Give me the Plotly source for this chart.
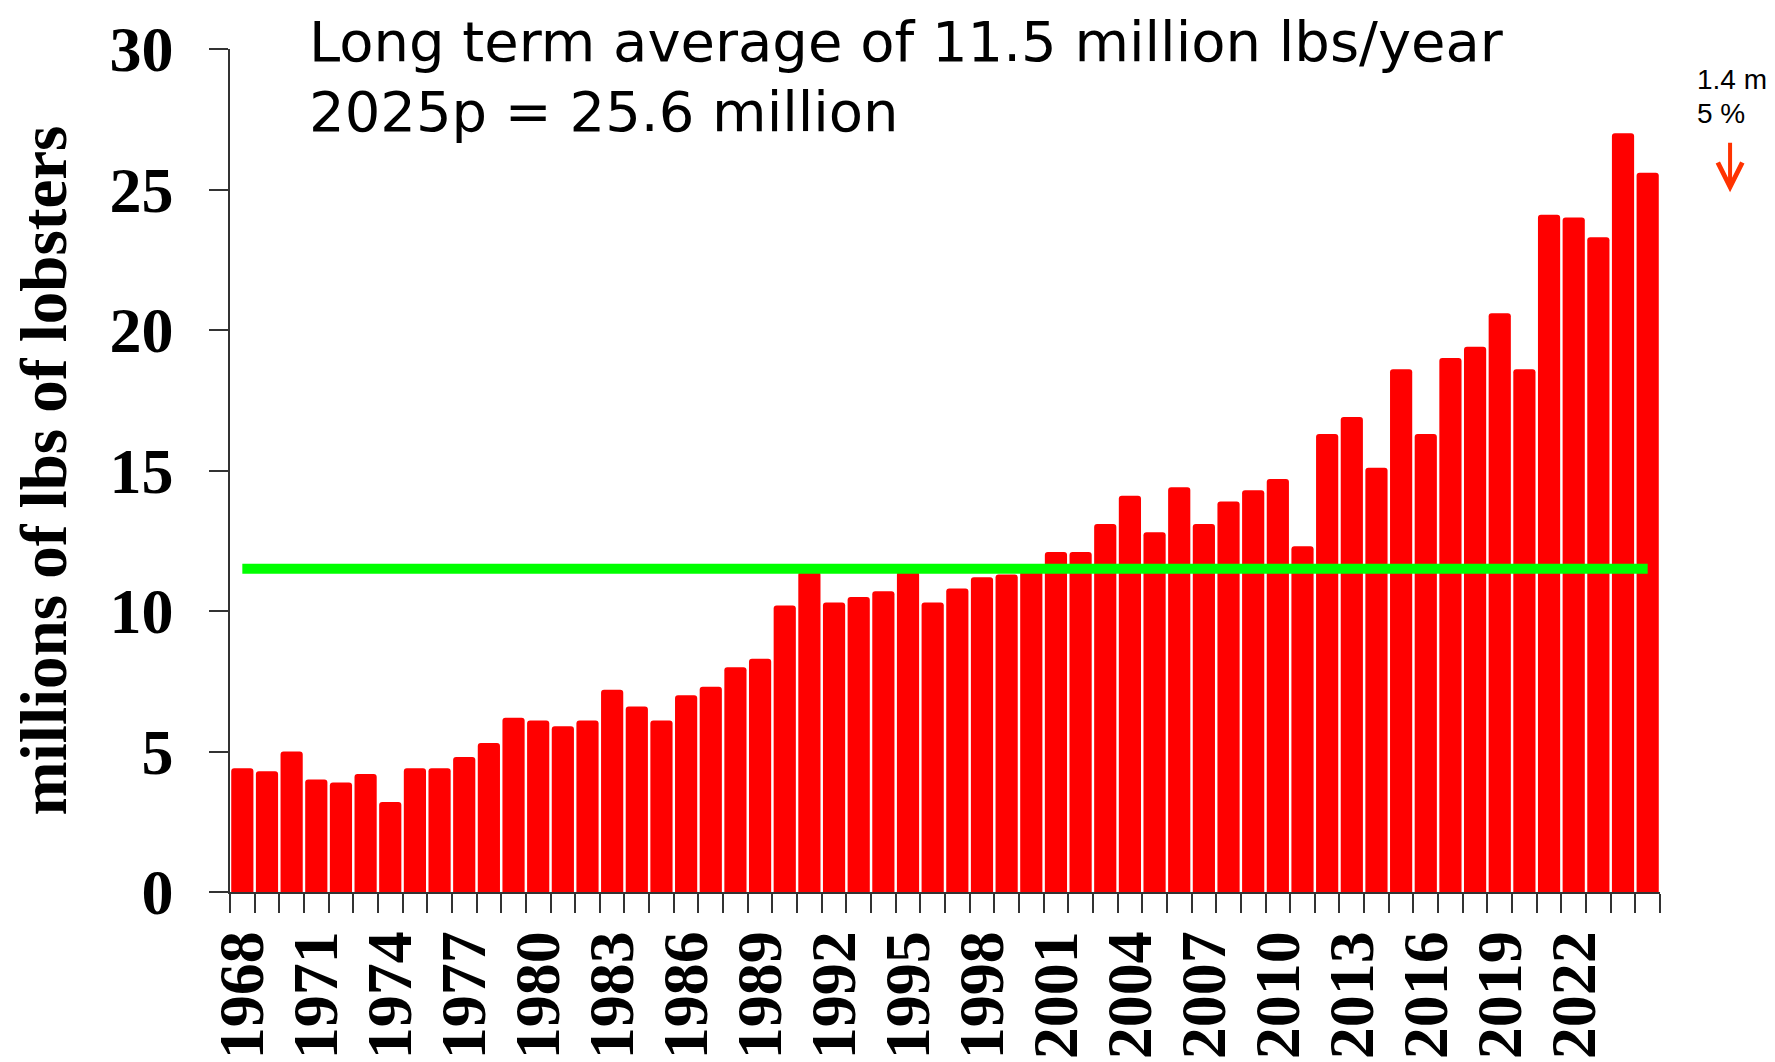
import plotly.graph_objects as go

# -------------------------------
# Datos
# -------------------------------
years = list(range(1968, 2026))
landings = [
    4.4, 4.3, 5.0, 4.0, 3.9, 4.2, 3.2, 4.4, 4.4, 4.8,
    5.3, 6.2, 6.1, 5.9, 6.1, 7.2, 6.6, 6.1, 7.0, 7.3,
    8.0, 8.3, 10.2, 11.4, 10.3, 10.5, 10.7, 11.4, 10.3, 10.8,
    11.2, 11.3, 11.5, 12.1, 12.1, 13.1, 14.1, 12.8, 14.4, 13.1,
    13.9, 14.3, 14.7, 12.3, 16.3, 16.9, 15.1, 18.6, 16.3, 19.0,
    19.4, 20.6, 18.6, 24.1, 24.0, 23.3, 27.0, 25.6,
]
label_years = [1968, 1971, 1974, 1977, 1980, 1983, 1986, 1989, 1992, 1995,
               1998, 2001, 2004, 2007, 2010, 2013, 2016, 2019, 2022]
avg_years = [1968, 2025]
avg_value = [11.5, 11.5]

title_lines = ["Long term average of 11.5 million lbs/year", "2025p = 25.6 million"]
change_lines = ["1.4 m", "5 %"]

serif = "Liberation Serif"

# -------------------------------
# Figura
# -------------------------------
fig = go.Figure()

fig.add_trace(go.Bar(
    x=years, y=landings,
    marker=dict(color="#FF0000", line=dict(width=0), cornerradius=3),
    width=0.9,
    showlegend=False,
))

fig.add_trace(go.Scatter(
    x=avg_years, y=avg_value, mode="lines",
    line=dict(color="#00FF00", width=10),
    showlegend=False,
))

# la página añade 8 px de margen arriba y a la izquierda
fig.update_layout(
    width=1775, height=1062,
    margin=dict(l=222, r=123, t=41, b=178),
    plot_bgcolor="white", paper_bgcolor="white",
    xaxis=dict(
        range=[1967.5, 2025.5],
        tickmode="array", tickvals=label_years,
        ticktext=[f"<b>{y}</b>" for y in label_years],
        tickangle=-90,
        ticks="outside", ticklen=0,
        ticklabelstandoff=12,
        tickfont=dict(family=serif, size=64, color="black"),
        minor=dict(ticks="outside", tick0=1967.5, dtick=1, ticklen=19,
                   tickcolor="#333", tickwidth=1.5, showgrid=False),
        showline=True, linecolor="#333", linewidth=1.5,
        showgrid=False, zeroline=False, automargin=False,
    ),
    yaxis=dict(
        range=[0, 30], dtick=5,
        ticks="outside", ticklen=19, tickcolor="#333", tickwidth=1.5,
        ticklabelstandoff=23,
        tickfont=dict(family=serif, size=64, color="black", weight="bold"),
        showline=True, linecolor="#333", linewidth=1.5,
        showgrid=False, zeroline=False, automargin=False,
        title=dict(text="<b>millions of lbs of lobsters</b>",
                   font=dict(family=serif, size=65, color="black"),
                   standoff=38),
    ),
)

# texto superior
fig.add_annotation(xref="paper", yref="paper", x=0.0545, y=1.0084,
                   xanchor="left", yanchor="middle", showarrow=False,
                   borderpad=0, text=title_lines[0],
                   font=dict(family="DejaVu Sans", size=56, color="black"))
fig.add_annotation(xref="paper", yref="paper", x=0.0545, y=0.9255,
                   xanchor="left", yanchor="middle", showarrow=False,
                   borderpad=0, text=title_lines[1],
                   font=dict(family="DejaVu Sans", size=56, color="black"))

# cambio respecto al año anterior
fig.add_annotation(xref="paper", yref="paper", x=1.0503, y=0.9644,
                   xanchor="center", yanchor="middle",
                   showarrow=False, text=change_lines[0],
                   font=dict(family="Liberation Sans", size=28, color="black"))
fig.add_annotation(xref="paper", yref="paper", x=1.0427, y=0.9229,
                   xanchor="center", yanchor="middle",
                   showarrow=False, text=change_lines[1],
                   font=dict(family="Liberation Sans", size=28, color="black"))
fig.add_annotation(xref="paper", yref="paper", x=1.049, y=0.83,
                   text="", showarrow=True, ax=0, ay=-51,
                   arrowhead=5, arrowsize=1.2, arrowwidth=4, arrowcolor="#FF3300")

fig.write_html("out.html")
